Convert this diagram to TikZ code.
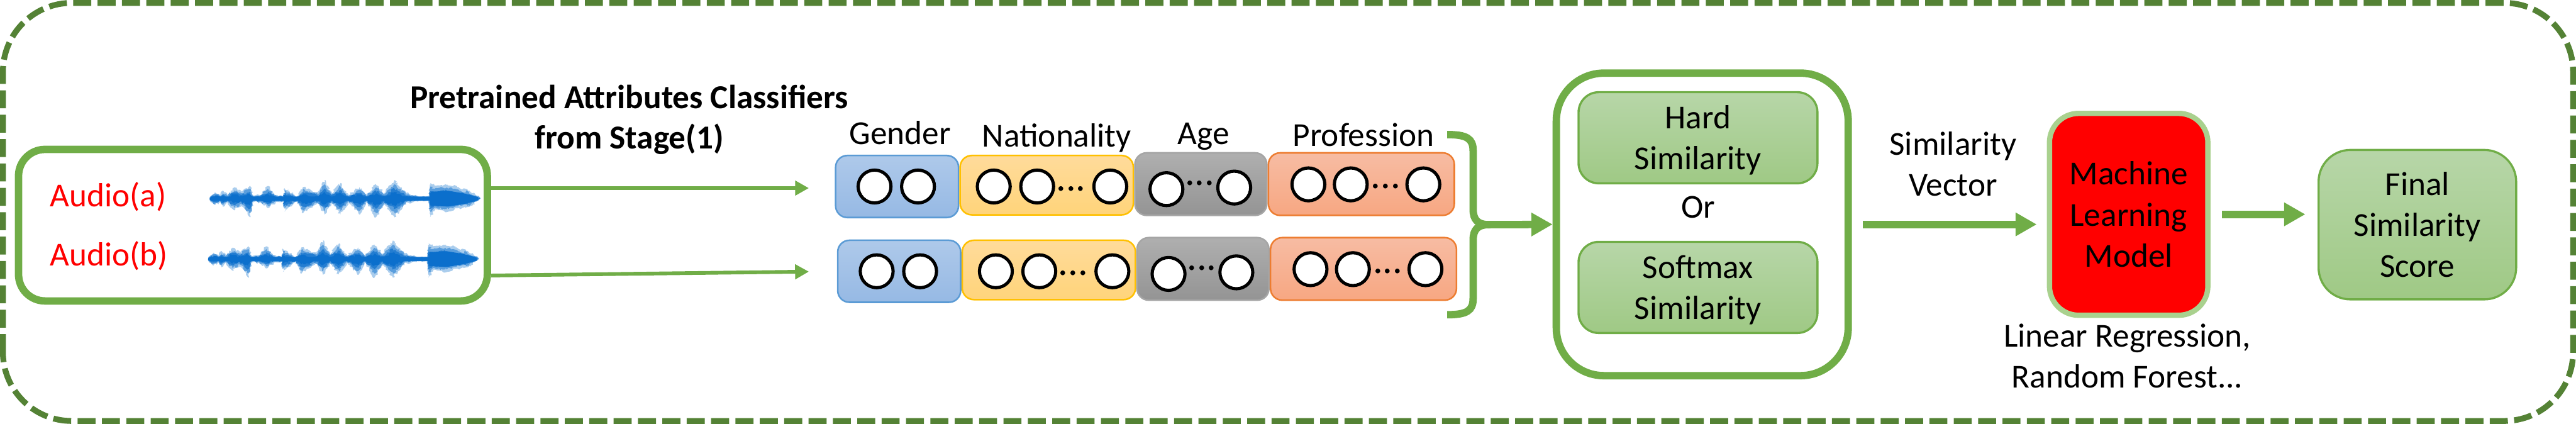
\documentclass[tikz,border=0pt]{standalone}
\usepackage{fontspec}
\setmainfont{Carlito}
\usetikzlibrary{arrows.meta,decorations.pathmorphing}
\definecolor{dashgreen}{HTML}{548235}
\definecolor{linegreen}{HTML}{70AD47}
\definecolor{lightgreen}{HTML}{A9D18E}
\definecolor{greentop}{HTML}{B7D6A8}
\definecolor{greenbot}{HTML}{9FC985}
\definecolor{wavecol}{HTML}{0B6FCC}
\definecolor{genderline}{HTML}{5B9BD5}
\definecolor{gendertop}{HTML}{AEC9EA}
\definecolor{genderbot}{HTML}{96B9E4}
\definecolor{natline}{HTML}{FFC000}
\definecolor{nattop}{HTML}{FFDB9B}
\definecolor{natbot}{HTML}{FFD47A}
\definecolor{ageline}{HTML}{A5A5A5}
\definecolor{agetop}{HTML}{AFAFAF}
\definecolor{agebot}{HTML}{949494}
\definecolor{profline}{HTML}{ED7D31}
\definecolor{proftop}{HTML}{F7BCA3}
\definecolor{profbot}{HTML}{F7A782}
\tikzset{
  txt/.style={font=\fontsize{18}{22}\selectfont,align=center,inner sep=0pt},
  framebox/.style={draw=linegreen,line width=.14cm,rounded corners=.5cm,inner sep=0pt},
  greenbox/.style={draw=linegreen,line width=.04cm,top color=greentop,bottom color=greenbot,rounded corners=.38cm,inner sep=0pt},
  attrbox/.style={line width=.03cm,rounded corners=.22cm,inner sep=0pt},
  unitcirc/.style={circle,draw=black,fill=white,line width=.06cm,minimum size=.62cm,inner sep=0pt},
  unitdots/.style={font=\fontsize{21}{22}\selectfont,anchor=base,inner sep=0pt},
  thinarrow/.style={draw=linegreen,line width=.07cm,-{Triangle[length=.26cm,width=.27cm]}},
  bigarrow/.style={draw=linegreen,line width=.14cm,-{Triangle[length=.4cm,width=.42cm]}},
  wavefill/.style={wavecol,decorate,decoration={random steps,segment length=.03cm,amplitude=.025cm}}
}
\newcommand{\audiowave}{%
  \pgfmathsetseed{11}
  \foreach \ws/\wo in {1.1/.35,.85/.5,.6/.7,.4/1}{
    \fill[wavefill,opacity=\wo,yscale=\ws] (0,3) -- (10,11) -- (20,6) -- (25,14) -- (33,6) -- (46,20) -- (60,12) -- (76,22) -- (82,5) -- (95,6) -- (110,22) -- (125,6) -- (140,4) -- (141,18) -- (165,4) -- (176,20) -- (205,10) -- (217,32) -- (230,8) -- (247,27) -- (262,6) -- (283,20) -- (296,6) -- (314,25) -- (330,10) -- (349,32) -- (370,10) -- (395,3) -- (415,3) -- (416,27) -- (425,22) -- (448,25) -- (470,20) -- (490,14) -- (505,5) -- (511,0) -- (505,-5) -- (490,-14) -- (470,-16) -- (448,-23) -- (425,-20) -- (416,-32) -- (415,-3) -- (395,-3) -- (370,-8) -- (349,-32) -- (330,-10) -- (314,-32) -- (296,-6) -- (283,-27) -- (262,-6) -- (247,-27) -- (230,-8) -- (217,-27) -- (205,-8) -- (176,-25) -- (165,-4) -- (141,-22) -- (140,-5) -- (125,-6) -- (110,-16) -- (95,-6) -- (82,-6) -- (76,-32) -- (60,-12) -- (46,-20) -- (33,-6) -- (25,-14) -- (20,-6) -- (10,-11) -- (0,-3) -- cycle;
  }
  \fill[wavecol] (2,-4) -- (2,4) -- (416,4) -- (418,13) -- (450,15) -- (480,10) -- (507,3) -- (507,-3) -- (480,-10) -- (450,-15) -- (418,-13) -- (416,-4) -- cycle;
}
\begin{document}
\begin{tikzpicture}
\useasboundingbox (0,0) rectangle (48.63,8);
\draw[dashgreen,line width=.11cm,rounded corners=1.3cm,dash pattern=on .34cm off .12cm] (.055,.055) rectangle (48.575,7.945);
% audio input
\node[framebox,minimum width=8.85cm,minimum height=2.86cm] (audio) at (4.775,3.75) {};
\node[txt,text=red,anchor=base west] (audioa) at (.94,4.10) {Audio(a)};
\node[txt,text=red,anchor=base west] (audiob) at (.94,2.98) {Audio(b)};
\begin{scope}[shift={(3.96,4.25)},x=.01cm,y=.01cm]\audiowave\end{scope}
\begin{scope}[shift={(3.93,3.11)},x=.01cm,y=.01cm]\audiowave\end{scope}
\node[txt,font=\fontsize{18}{21.6}\selectfont\bfseries] (pretrained) at (11.88,5.74) {Pretrained Attributes Classifiers\\from Stage(1)};
% attribute labels
\node[txt,anchor=base] (gender) at (16.99,5.27) {Gender};
\node[txt,anchor=base] (nationality) at (19.95,5.23) {Nationality};
\node[txt,anchor=base] (age) at (22.72,5.27) {Age};
\node[txt,anchor=base] (profession) at (25.74,5.24) {Profession};
% two rows of attribute vectors
\foreach \row/\dx/\dy in {a/0/0,b/.04/-1.6}{
  \begin{scope}[shift={(\dx,\dy)}]
  \node[attrbox,draw=genderline,top color=gendertop,bottom color=genderbot,minimum width=2.32cm,minimum height=1.17cm] (gender\row) at (16.935,4.48) {};
  \node[attrbox,draw=natline,top color=nattop,bottom color=natbot,minimum width=3.27cm,minimum height=1.12cm] (nat\row) at (19.76,4.505) {};
  \node[attrbox,draw=ageline,top color=agetop,bottom color=agebot,minimum width=2.49cm,minimum height=1.18cm] (age\row) at (22.67,4.525) {};
  \node[attrbox,draw=profline,top color=proftop,bottom color=profbot,minimum width=3.51cm,minimum height=1.18cm] (prof\row) at (25.7,4.525) {};
  \foreach \cx/\cy [count=\ci] in {16.51/4.48,17.33/4.48,18.76/4.48,19.58/4.48,20.96/4.48,22.02/4.43,23.30/4.46,24.70/4.52,25.50/4.52,26.87/4.52}{
    \node[unitcirc] (unit\row\ci) at (\cx,\cy) {};
  }
  \foreach \cx/\cy [count=\ci] in {20.22/4.40,22.65/4.50,26.16/4.44}{
    \node[unitdots] (dots\row\ci) at (\cx,\cy) {...};
  }
  \end{scope}
}
\draw[thinarrow,shorten >=.49cm] ([yshift=.7cm]audio.east) -- ([yshift=-.03cm]gendera.west);
\draw[thinarrow,shorten >=.53cm] ([yshift=-.95cm]audio.east) -- (genderb.west);
% brace
\coordinate (bracetip) at (28.1,3.76);
\draw[linegreen,line width=.14cm] (27.32,5.46) .. controls (27.7,5.46) and (27.81,5.38) .. (27.81,5.15) -- (27.81,4.05) .. controls (27.81,3.85) and (27.9,3.76) .. (bracetip);
\draw[linegreen,line width=.14cm] (27.32,2.06) .. controls (27.7,2.06) and (27.81,2.14) .. (27.81,2.37) -- (27.81,3.47) .. controls (27.81,3.67) and (27.9,3.76) .. (bracetip);
% similarity
\node[framebox,rounded corners=.9cm,minimum width=5.51cm,minimum height=5.71cm] (simbox) at (32.135,3.765) {};
\draw[bigarrow] (bracetip) -- (simbox.west);
\node[greenbox,minimum width=4.51cm,minimum height=1.72cm] (hard) at (32.055,5.40) {};
\node[greenbox,minimum width=4.51cm,minimum height=1.72cm] (softmax) at (32.055,2.575) {};
\node[txt,yshift=-.05cm] (hardtxt) at (hard) {Hard\\Similarity};
\node[txt,yshift=-.05cm] (softmaxtxt) at (softmax) {Softmax\\Similarity};
\node[txt,anchor=base] (orlabel) at (32.06,3.89) {Or};
\node[txt] (simvec) at (36.87,4.90) {Similarity\\Vector};
% model and score
\node[txt,draw=lightgreen,fill=red,line width=.1cm,rounded corners=.55cm,minimum width=2.99cm,minimum height=3.81cm] (model) at (40.185,3.955) {Machine\\Learning\\Model};
\node[txt] (modellist) at (40.16,1.28) {Linear Regression,\\Random Forest...};
\node[greenbox,txt,rounded corners=.6cm,minimum width=3.73cm,minimum height=2.82cm] (final) at (45.635,3.76) {Final\\Similarity\\Score};
\draw[bigarrow,shorten <=.21cm,shorten >=.19cm] (simbox.east) -- (simbox.east -| model.west);
\draw[bigarrow,shorten <=.22cm,shorten >=.23cm] (model.east) -- (model.east -| final.west);
\end{tikzpicture}
\end{document}
